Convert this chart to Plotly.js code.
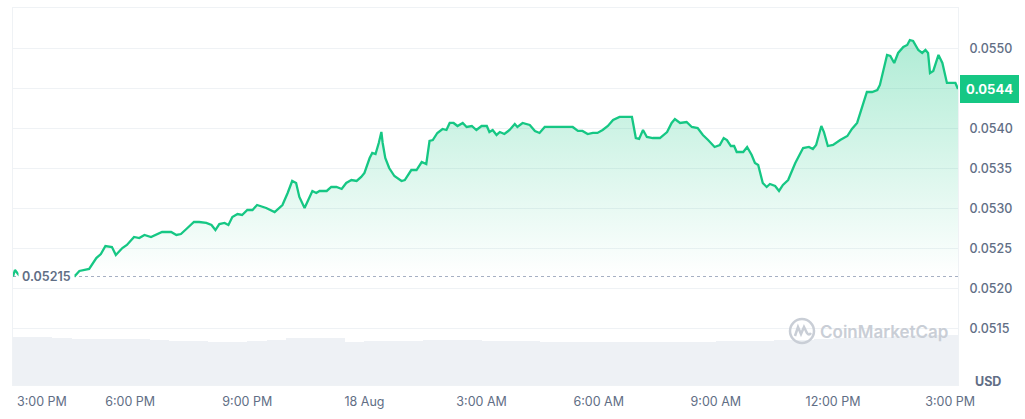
<!DOCTYPE html>
<html>
<head>
<meta charset="utf-8">
<script src="https://cdn.plot.ly/plotly-3.0.1.min.js"></script>
<style>
  html, body { margin: 0; padding: 0; background: #ffffff; }
  #chart { width: 1025px; height: 419px; }
</style>
</head>
<body>
<div id="chart"></div>
<script>
// ---- Data ----
const startTime = '2024-08-17T15:00:00Z';
const openPrice = 0.05215;
const lastPriceLabel = '0.0544';
const currency = 'USD';

// minutes after start
const minutes = [0, 3, 9, 25, 40, 60, 71, 83, 89, 95, 102, 117, 128, 135, 142, 152, 158, 168, 175, 186, 194,
  202, 212, 220, 229, 235, 243, 251, 258, 268, 278, 286, 297, 305, 311, 317, 325, 331, 337, 345, 352,
  360, 368, 375, 389, 402, 414, 422, 429, 435, 440, 448, 460, 466, 471, 482, 489, 497, 505, 512, 520,
  528, 535, 540, 548, 552, 557, 562, 566, 568, 572, 578, 586, 597, 602, 612, 620, 628, 635, 640, 645,
  652, 660, 666, 671, 677, 683, 691, 697, 705, 712, 720, 728, 732, 737, 743, 748, 755, 763, 771, 775,
  783, 794, 802, 809, 817, 825, 835, 845, 852, 860, 868, 875, 883, 891, 898, 906, 914, 922, 932, 940,
  951, 957, 962, 968, 974, 983, 994, 1005, 1012, 1017, 1025, 1035, 1043, 1052, 1060, 1068, 1078, 1086, 1092, 1097,
  1103, 1108, 1112, 1122, 1128, 1135, 1140, 1145, 1152, 1158, 1163, 1171, 1177, 1183, 1191, 1202, 1209, 1214, 1223, 1229,
  1234, 1242, 1246, 1252, 1260, 1271, 1282, 1289, 1297, 1302, 1312, 1320, 1328, 1332, 1343, 1348, 1354, 1360, 1368, 1374,
  1378, 1383, 1391, 1397, 1402, 1406, 1409, 1414, 1422, 1428, 1435, 1440, 1448, 1452];

const prices = [0.05215, 0.052231, 0.052169, 0.052181, 0.052206, 0.052256, 0.052194, 0.052169, 0.052181, 0.052156, 0.052219,
  0.052244, 0.052381, 0.052431, 0.052531, 0.052519, 0.052419, 0.052506, 0.052544, 0.052644, 0.052631,
  0.052669, 0.052644, 0.052669, 0.052706, 0.052706, 0.052706, 0.052669, 0.052681, 0.052756, 0.052831,
  0.052831, 0.052819, 0.052794, 0.052731, 0.052806, 0.052819, 0.052794, 0.052894, 0.052931, 0.052919,
  0.052981, 0.052981, 0.053044, 0.053006, 0.052956, 0.053044, 0.053194, 0.053344, 0.053319, 0.053144,
  0.053006, 0.053219, 0.053194, 0.053219, 0.053219, 0.053269, 0.053269, 0.053244, 0.053319, 0.053356,
  0.053344, 0.053394, 0.053444, 0.053631, 0.053694, 0.053681, 0.053819, 0.053956, 0.053819, 0.053631,
  0.053506, 0.053406, 0.053344, 0.053356, 0.053481, 0.053481, 0.053581, 0.053556, 0.053844, 0.053856,
  0.053944, 0.053994, 0.053981, 0.054069, 0.054069, 0.054031, 0.054069, 0.054019, 0.054031, 0.053981,
  0.054031, 0.054031, 0.053956, 0.053981, 0.053919, 0.053956, 0.053931, 0.053981, 0.054056, 0.054019,
  0.054069, 0.054044, 0.053969, 0.053944, 0.054019, 0.054019, 0.054019, 0.054019, 0.054019, 0.054019,
  0.053969, 0.053969, 0.053931, 0.053944, 0.053944, 0.053981, 0.054031, 0.054106, 0.054144, 0.054144,
  0.054144, 0.053881, 0.053869, 0.053981, 0.053894, 0.053881, 0.053881, 0.053956, 0.054069, 0.054119,
  0.054069, 0.054081, 0.054019, 0.054006, 0.053919, 0.053856, 0.053769, 0.053794, 0.053881, 0.053856,
  0.053781, 0.053781, 0.053706, 0.053706, 0.053769, 0.053669, 0.053569, 0.053544, 0.053319, 0.053269,
  0.053306, 0.053281, 0.053219, 0.053294, 0.053356, 0.053569, 0.053669, 0.053756, 0.053769, 0.053744,
  0.053794, 0.054031, 0.053956, 0.053781, 0.053794, 0.053856, 0.053906, 0.053994, 0.054069, 0.054206,
  0.054456, 0.054456, 0.054481, 0.054544, 0.054919, 0.054906, 0.054819, 0.054944, 0.055019, 0.055044,
  0.055106, 0.055094, 0.054981, 0.054944, 0.054981, 0.054944, 0.054694, 0.054719, 0.054919, 0.054819,
  0.054569, 0.054569, 0.054569, 0.054494];

// volume per 30-minute bucket (relative units, millions USD)
const volumes = [9.6, 9.6, 9.4, 9.2, 9.2, 9.2, 9.2, 9.0, 8.8, 8.8,
  8.6, 8.6, 8.8, 9.0, 9.4, 9.4, 9.4, 8.6, 8.8, 8.8,
  8.8, 9.0, 9.0, 9.0, 8.8, 8.8, 8.8, 8.6, 8.6, 8.6,
  8.6, 8.6, 8.6, 8.6, 8.6, 8.6, 8.8, 8.8, 8.8, 9.0,
  9.0, 9.2, 9.4, 9.6, 9.6, 9.8, 10.0, 10.0, 10.0];
const volumeBucketMinutes = 30;

const yTickVals = [0.0515, 0.0520, 0.0525, 0.0530, 0.0535, 0.0540, 0.0545, 0.0550];
const yTickHidden = [0.0545]; // covered by the current-price tag
const xTickTimes = ['2024-08-17 18:00', '2024-08-17 21:00', '2024-08-18 00:00', '2024-08-18 03:00',
  '2024-08-18 06:00', '2024-08-18 09:00', '2024-08-18 12:00', '2024-08-18 15:00'];
const xTickText = ['6:00 PM', '9:00 PM', '18 Aug', '3:00 AM', '6:00 AM', '9:00 AM', '12:00 PM', '3:00 PM'];
const firstTickText = '3:00 PM';

// ---- helpers ----
const t0 = Date.parse(startTime);
function fmt(ms) { return new Date(ms).toISOString().slice(0, 19).replace('T', ' '); }
function atMinute(m) { return fmt(t0 + m * 60000); }

const times = minutes.map(atMinute);
const volTimes = volumes.map((v, i) => atMinute(i * volumeBucketMinutes + volumeBucketMinutes / 2));
const xStart = times[0];
const xEnd = times[times.length - 1];

const green = '#16c784';
const gray = '#616e85';
const font = 'Inter, "Noto Sans", sans-serif';

const traces = [
  {
    type: 'bar', x: volTimes, y: volumes, yaxis: 'y2',
    marker: { color: '#eef1f5', line: { width: 0 } },
    hoverinfo: 'skip', showlegend: false
  },
  {
    type: 'scatter', mode: 'lines', x: times, y: times.map(() => openPrice),
    line: { width: 0, color: 'rgba(0,0,0,0)' }, hoverinfo: 'skip', showlegend: false
  },
  {
    type: 'scatter', mode: 'lines', x: times, y: prices,
    line: { color: green, width: 2.3, shape: 'linear' },
    fill: 'tonexty',
    fillcolor: 'rgba(22,199,132,0.12)',
    fillgradient: {
      type: 'vertical', start: openPrice, stop: Math.max(...prices),
      colorscale: [[0, 'rgba(22,199,132,0.0)'], [1, 'rgba(22,199,132,0.34)']]
    },
    hoverinfo: 'skip', showlegend: false
  }
];

const plotL = 13, plotR = 958, plotT = 8, plotB = 385;
const pw = plotR - plotL, ph = plotB - plotT;

const layout = {
  width: 1025, height: 419,
  margin: { l: plotL, r: 1025 - plotR, t: plotT, b: 419 - plotB, pad: 0 },
  paper_bgcolor: '#ffffff', plot_bgcolor: '#ffffff',
  font: { family: font, color: gray, size: 12 },
  showlegend: false, hovermode: false, bargap: 0,
  xaxis: {
    type: 'date', range: [xStart, xEnd],
    tickvals: xTickTimes, ticktext: xTickText,
    showgrid: false, zeroline: false,
    showline: true, linecolor: '#eff2f5', linewidth: 1, mirror: true,
    ticks: '', ticklabelstandoff: 5,
    tickfont: { family: font, size: 12.5, color: gray }
  },
  yaxis: {
    side: 'right', range: [0.050794, 0.055506],
    tickvals: yTickVals,
    ticktext: yTickVals.map(v => yTickHidden.includes(v) ? '' : v.toFixed(4)),
    showgrid: true, gridcolor: '#eff2f5', gridwidth: 1, zeroline: false,
    showline: true, linecolor: '#eff2f5', linewidth: 1, mirror: true,
    ticks: '', ticklabelstandoff: 8,
    tickfont: { family: font, size: 12.5, color: gray, weight: 500 }
  },
  yaxis2: {
    overlaying: 'y', side: 'left', range: [0, 75.4], visible: false,
    showgrid: false, zeroline: false, fixedrange: true
  },
  shapes: [
    {
      type: 'line', xref: 'paper', x0: 0, x1: 1, yref: 'y', y0: openPrice, y1: openPrice,
      line: { color: '#a6b0c3', width: 1, dash: 'dot' }, layer: 'below'
    },
    {
      type: 'circle', xref: 'paper', yref: 'paper', xsizemode: 'pixel', ysizemode: 'pixel',
      xanchor: (802 - plotL) / pw, yanchor: (plotB - 331) / ph,
      x0: -12, x1: 12, y0: -12, y1: 12,
      line: { color: '#c9ced6', width: 2.5 }, layer: 'above'
    },
    {
      type: 'path', xref: 'paper', yref: 'paper', xsizemode: 'pixel', ysizemode: 'pixel',
      xanchor: (802 - plotL) / pw, yanchor: (plotB - 331) / ph,
      path: 'M -7,-5 L -4,4 L -1,-3 L 2,4 L 5,-2 Q 7,-5 9,-2',
      line: { color: '#c9ced6', width: 2.5 }, layer: 'above'
    }
  ],
  annotations: [
    {
      xref: 'paper', yref: 'y', x: 0, y: openPrice, xanchor: 'left', yanchor: 'middle',
      xshift: 5, text: openPrice.toFixed(5), showarrow: false,
      font: { family: font, size: 12.5, color: gray, weight: 600 },
      bgcolor: '#ffffff', borderpad: 3
    },
    {
      xref: 'paper', yref: 'y', x: 1, y: prices[prices.length - 1], xanchor: 'left', yanchor: 'middle',
      xshift: 2, text: lastPriceLabel, showarrow: false,
      font: { family: font, size: 13, color: '#ffffff', weight: 700 },
      bgcolor: green, bordercolor: green, borderwidth: 1, borderpad: 5
    },
    {
      xref: 'paper', yref: 'paper', x: 1, y: 0, xanchor: 'center', yanchor: 'middle',
      xshift: 988 - plotR, yshift: -(381 - plotB), text: currency, showarrow: false,
      font: { family: font, size: 12.5, color: gray, weight: 700 }
    },
    {
      xref: 'paper', yref: 'paper', x: 0, y: 0, xanchor: 'left', yanchor: 'middle',
      xshift: 2, yshift: -16, text: firstTickText, showarrow: false,
      font: { family: font, size: 12.5, color: gray }
    },
    {
      xref: 'paper', yref: 'paper', x: (884 - plotL) / pw, y: (plotB - 332) / ph,
      xanchor: 'center', yanchor: 'middle', text: 'CoinMarketCap', showarrow: false,
      font: { family: font, size: 17, color: '#c9ced6', weight: 600 }
    }
  ]
};

Plotly.newPlot('chart', traces, layout, { displayModeBar: false, staticPlot: true });
</script>
</body>
</html>
